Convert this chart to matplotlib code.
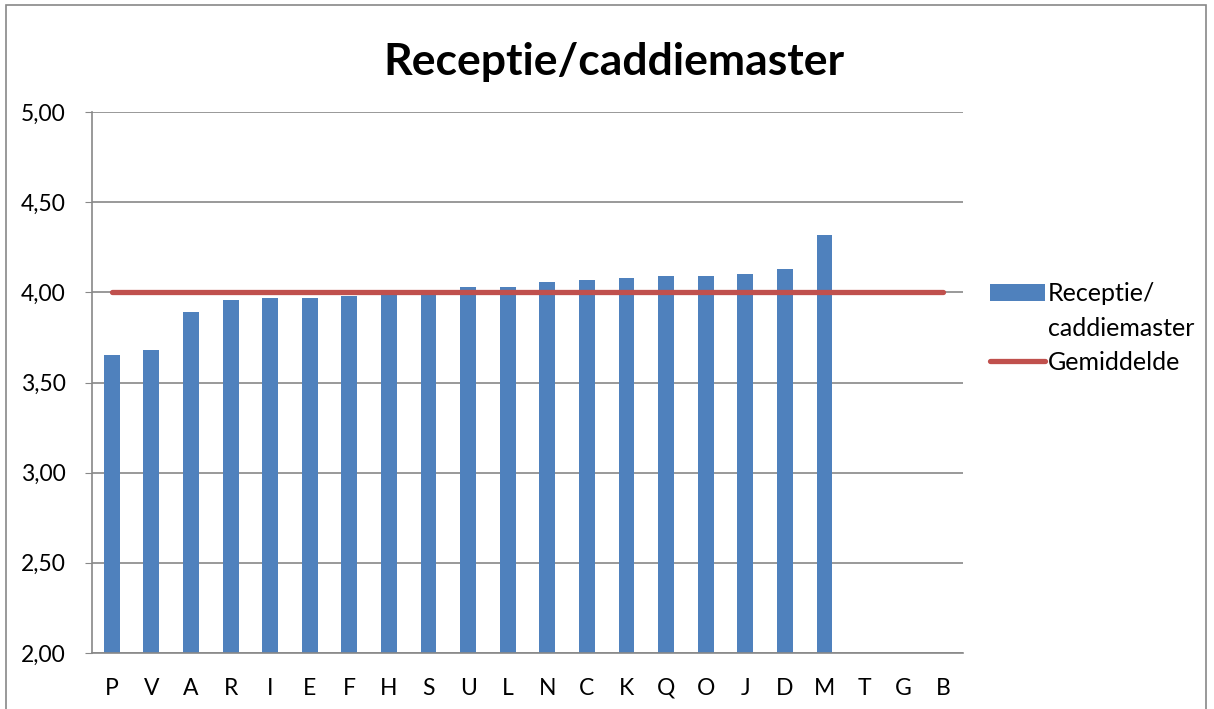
import matplotlib.pyplot as plt
from matplotlib.patches import Rectangle

plt.rcParams['font.family'] = ['Lato', 'DejaVu Sans']

categorieen = ['P', 'V', 'A', 'R', 'I', 'E', 'F', 'H', 'S', 'U', 'L', 'N', 'C', 'K',
               'Q', 'O', 'J', 'D', 'M', 'T', 'G', 'B']
scores = [3.65, 3.68, 3.89, 3.96, 3.97, 3.97, 3.98, 3.99, 3.99, 4.03, 4.03, 4.06, 4.07, 4.08,
          4.09, 4.09, 4.10, 4.13, 4.32, None, None, None]
gemiddelde = [4.00, 4.00, 4.00, 4.00, 4.00, 4.00, 4.00, 4.00, 4.00, 4.00, 4.00, 4.00, 4.00,
              4.00, 4.00, 4.00, 4.00, 4.00, 4.00, 4.00, 4.00, 4.00]
yticks = [2.0, 2.5, 3.0, 3.5, 4.0, 4.5, 5.0]

blauw = '#4F81BD'
rood = '#C0504D'
grijs = '#888888'

fig = plt.figure(figsize=(12.14, 7.09), dpi=100)
fig.patches.append(Rectangle((0.005, -0.01), 0.988, 1.003, transform=fig.transFigure,
                             fill=False, edgecolor=grijs, linewidth=1.2))

ax = fig.add_axes([0.0758, 0.079, 0.7175, 0.763])

x = list(range(len(categorieen)))
bx = [i for i, v in zip(x, scores) if v is not None]
bv = [v for v in scores if v is not None]
bars = ax.bar(bx, bv, width=0.4, color=blauw, zorder=2)
lijn, = ax.plot(x, gemiddelde, color=rood, linewidth=3.8, solid_capstyle='round', zorder=3)

ax.set_ylim(2.0, 5.0)
ax.set_xlim(-0.5, len(categorieen) - 0.5)
ax.set_yticks(yticks)
ax.set_yticklabels([f'{t:.2f}'.replace('.', ',') for t in yticks], fontsize=16.5)
ax.set_xticks(x)
ax.set_xticklabels(categorieen, fontsize=16.5)
ax.tick_params(axis='x', length=0, pad=18)
ax.tick_params(axis='y', length=5, color=grijs, pad=14, direction='out')
ax.yaxis.grid(True, color=grijs, linewidth=1.2, zorder=0)
ax.set_axisbelow(True)
for s in ['top', 'right']:
    ax.spines[s].set_visible(False)
for s in ['left', 'bottom']:
    ax.spines[s].set_color(grijs)
    ax.spines[s].set_linewidth(1.2)

fig.text(0.506, 0.912, 'Receptie/caddiemaster', ha='center', va='center',
         fontsize=32, fontweight='bold')

leeg = Rectangle((0, 0), 1, 1, alpha=0)
ax.legend([bars, leeg, lijn], ['Receptie/', 'caddiemaster', 'Gemiddelde'],
          loc='upper left', bbox_to_anchor=(1.031, 0.685), frameon=False, fontsize=18,
          handlelength=2.2, handletextpad=0.1, labelspacing=0.45,
          borderpad=0, borderaxespad=0)

fig.savefig('out.png', dpi=100)
